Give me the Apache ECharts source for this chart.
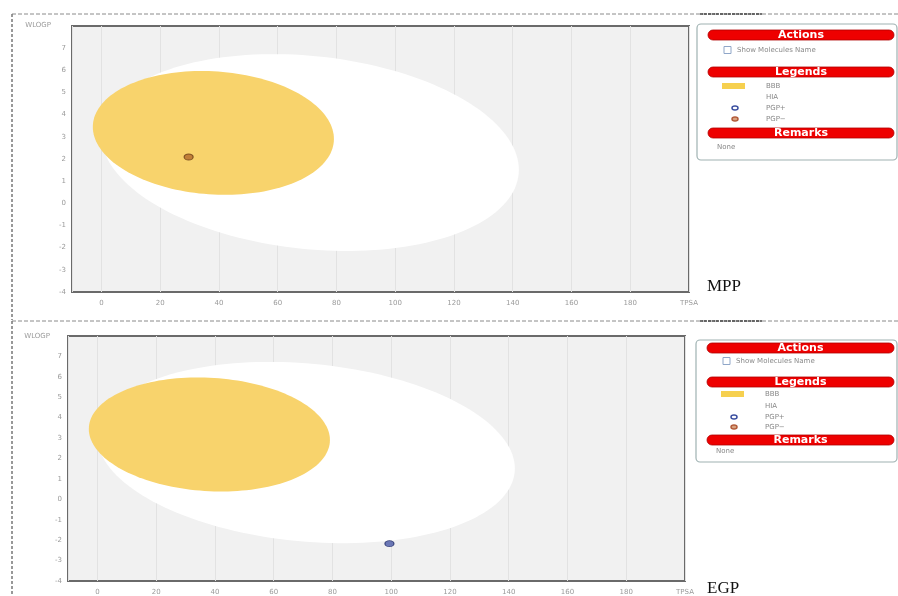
<!DOCTYPE html>
<html>
<head>
<meta charset="utf-8">
<script src="https://cdn.jsdelivr.net/npm/echarts@6/dist/echarts.min.js"></script>
<style>
  html, body { margin: 0; padding: 0; background: #ffffff; }
  #chart { width: 898px; height: 596px; }
</style>
</head>
<body>
<div id="chart"></div>
<script>
// Panel captions
const panelNames = ['MPP', 'EGP'];

// Axis ranges (TPSA on x, WLOGP on y)
const tpsaRange = [-10, 200];
const wlogpRange = [-4, 8];
const axisTitles = ['TPSA', 'WLOGP'];

// BOILED-Egg regions: [centre TPSA, centre WLOGP, semi-axis TPSA, semi-axis WLOGP, tilt (rad)]
const hiaEllipse = [71.051, 2.292, 71.04, 4.37, -0.011];
const bbbEllipse = [38.117, 3.177, 41.03, 2.78, -0.0066];

// Molecules: [TPSA, WLOGP]
const mppPgpNeg = [[29.7, 2.09]];
const mppPgpPos = [];
const egpPgpNeg = [];
const egpPgpPos = [[99.4, -2.17]];

// Legend entries
const legendLabels = ['BBB', 'HIA', 'PGP+', 'PGP\u2212'];

const AXIS_GREY = '#9a9a9a';

function ellipseItem(params, api) {
  const cx = api.value(0), cy = api.value(1);
  const a = api.value(2), b = api.value(3), th = api.value(4);
  const pts = [];
  const n = 160;
  for (let i = 0; i < n; i++) {
    const t = (i / n) * Math.PI * 2;
    const x = cx + a * Math.cos(t) * Math.cos(th) - b * Math.sin(t) * Math.sin(th);
    const y = cy + a * Math.cos(t) * Math.sin(th) + b * Math.sin(t) * Math.cos(th);
    pts.push(api.coord([x, y]));
  }
  return {
    type: 'polygon',
    shape: { points: pts },
    style: { fill: api.visual('color') }
  };
}

function makeXAxis(gridIndex) {
  return {
    type: 'value', gridIndex,
    min: tpsaRange[0], max: tpsaRange[1], splitNumber: 10,
    axisLine: { show: false },
    axisTick: { show: false },
    splitLine: { show: true, lineStyle: { color: '#e2e2e2', width: 1 } },
    axisLabel: {
      color: AXIS_GREY, fontSize: 7, fontFamily: 'DejaVu Sans', margin: 8,
      formatter: v => (v === tpsaRange[1] ? axisTitles[0] : (v < 0 ? '' : String(v)))
    }
  };
}

function makeYAxis(gridIndex) {
  return {
    type: 'value', gridIndex,
    min: wlogpRange[0], max: wlogpRange[1], interval: 1,
    axisLine: { show: false },
    axisTick: { show: false },
    splitLine: { show: false },
    axisLabel: {
      color: AXIS_GREY, fontSize: 7, fontFamily: 'DejaVu Sans', margin: 6,
      formatter: v => (v === wlogpRange[1] ? '' : String(v))
    }
  };
}

function regionSeries(gridIndex) {
  return [
    { type: 'custom', name: 'HIA', xAxisIndex: gridIndex, yAxisIndex: gridIndex,
      renderItem: ellipseItem, itemStyle: { color: '#ffffff' }, data: [hiaEllipse], z: 1, silent: true,
      encode: { x: 0, y: 1 } },
    { type: 'custom', name: 'BBB', xAxisIndex: gridIndex, yAxisIndex: gridIndex,
      renderItem: ellipseItem, itemStyle: { color: '#f8d36c' }, data: [bbbEllipse], z: 2, silent: true,
      encode: { x: 0, y: 1 } }
  ];
}

function pointSeries(gridIndex, pos, neg) {
  return [
    { type: 'scatter', name: 'PGP+', xAxisIndex: gridIndex, yAxisIndex: gridIndex,
      symbol: 'circle', symbolSize: [9, 6], data: pos, z: 5,
      itemStyle: { color: '#4b5aa8', borderColor: '#1f2a66', borderWidth: 1 } },
    { type: 'scatter', name: 'PGP\u2212', xAxisIndex: gridIndex, yAxisIndex: gridIndex,
      symbol: 'circle', symbolSize: [9, 6], data: neg, z: 5,
      itemStyle: { color: '#b36a2c', borderColor: '#6b3f17', borderWidth: 1 } }
  ];
}

// Side panel: Actions / Legends / Remarks
function sidePanel(x, y, w, h, rows) {
  const els = [];
  els.push({ type: 'rect', shape: { x: x, y: y, width: w, height: h, r: 4 },
    style: { fill: '#ffffff', stroke: '#9fb2b2', lineWidth: 1.2 } });
  function bar(by, text) {
    els.push({ type: 'rect', shape: { x: x + 11, y: by, width: w - 14, height: 10, r: 5 },
      style: { fill: '#ee0000', stroke: '#b00000', lineWidth: 0.8 } });
    els.push({ type: 'text', x: x + 11 + (w - 14) / 2, y: by + 5,
      style: { text: text, fill: '#ffffff', font: 'bold 11px "DejaVu Sans"', align: 'center', verticalAlign: 'middle' } });
  }
  bar(rows.actions, 'Actions');
  els.push({ type: 'rect', shape: { x: x + 27, y: rows.check - 3.5, width: 7, height: 7 },
    style: { fill: '#ffffff', stroke: '#8fa6c8', lineWidth: 1 } });
  els.push({ type: 'text', x: x + 40, y: rows.check,
    style: { text: 'Show Molecules Name', fill: '#888888', font: '7px "DejaVu Sans"', verticalAlign: 'middle' } });
  bar(rows.legends, 'Legends');
  els.push({ type: 'rect', shape: { x: x + 25, y: rows.items[0] - 3, width: 23, height: 6 },
    style: { fill: '#f6d04f' } });
  els.push({ type: 'ellipse', shape: { cx: x + 38, cy: rows.items[2], rx: 3, ry: 2 },
    style: { fill: '#ffffff', stroke: '#3b4fa0', lineWidth: 1.5 } });
  els.push({ type: 'ellipse', shape: { cx: x + 38, cy: rows.items[3], rx: 3, ry: 2 },
    style: { fill: '#d9a380', stroke: '#b25b3a', lineWidth: 1.5 } });
  legendLabels.forEach((t, i) => {
    els.push({ type: 'text', x: x + 69, y: rows.items[i],
      style: { text: t, fill: '#888888', font: '7px "DejaVu Sans"', verticalAlign: 'middle' } });
  });
  bar(rows.remarks, 'Remarks');
  els.push({ type: 'text', x: x + 20, y: rows.none,
    style: { text: 'None', fill: '#888888', font: '7px "DejaVu Sans"', verticalAlign: 'middle' } });
  return els;
}

function frameLines(topY, bottomY) {
  return [
    { type: 'line', shape: { x1: 12, y1: topY, x2: 898, y2: topY },
      style: { stroke: '#8a8a8a', lineWidth: 1, lineDash: [4, 2] } },
    { type: 'line', shape: { x1: 700, y1: topY, x2: 762, y2: topY },
      style: { stroke: '#444444', lineWidth: 1.5, lineDash: [3, 1] } },
    { type: 'line', shape: { x1: 12, y1: topY, x2: 12, y2: bottomY },
      style: { stroke: '#777777', lineWidth: 1.5, lineDash: [3, 2] } }
  ];
}

function yTitle(x, y) {
  return { type: 'text', x: x, y: y,
    style: { text: axisTitles[1], fill: AXIS_GREY, font: '7px "DejaVu Sans"', align: 'right', verticalAlign: 'middle' } };
}

const chart = echarts.init(document.getElementById('chart'), null, { renderer: 'canvas' });

const option = {
  animation: false,
  backgroundColor: '#ffffff',
  grid: [
    { left: 72, top: 26, width: 617, height: 266, show: true, backgroundColor: '#f1f1f1', borderColor: '#6a6a6a', borderWidth: 2 },
    { left: 68, top: 336, width: 617, height: 245, show: true, backgroundColor: '#f1f1f1', borderColor: '#6a6a6a', borderWidth: 2 }
  ],
  xAxis: [makeXAxis(0), makeXAxis(1)],
  yAxis: [makeYAxis(0), makeYAxis(1)],
  series: [
    ...regionSeries(0), ...pointSeries(0, mppPgpPos, mppPgpNeg),
    ...regionSeries(1), ...pointSeries(1, egpPgpPos, egpPgpNeg)
  ],
  graphic: [
    ...frameLines(14, 320),
    ...frameLines(321, 596),
    yTitle(51, 25),
    yTitle(50, 336),
    ...sidePanel(697, 24, 200, 136, { actions: 30, check: 50, legends: 67, items: [86, 97, 108, 119], remarks: 128, none: 147 }),
    ...sidePanel(696, 340, 201, 122, { actions: 343, check: 361, legends: 377, items: [394, 406, 417, 427], remarks: 435, none: 451 }),
    { type: 'text', x: 707, y: 287, style: { text: panelNames[0], fill: '#111111', font: '17px "Liberation Serif"', verticalAlign: 'middle' } },
    { type: 'text', x: 707, y: 589, style: { text: panelNames[1], fill: '#111111', font: '17px "Liberation Serif"', verticalAlign: 'middle' } }
  ]
};

chart.setOption(option);
</script>
</body>
</html>
